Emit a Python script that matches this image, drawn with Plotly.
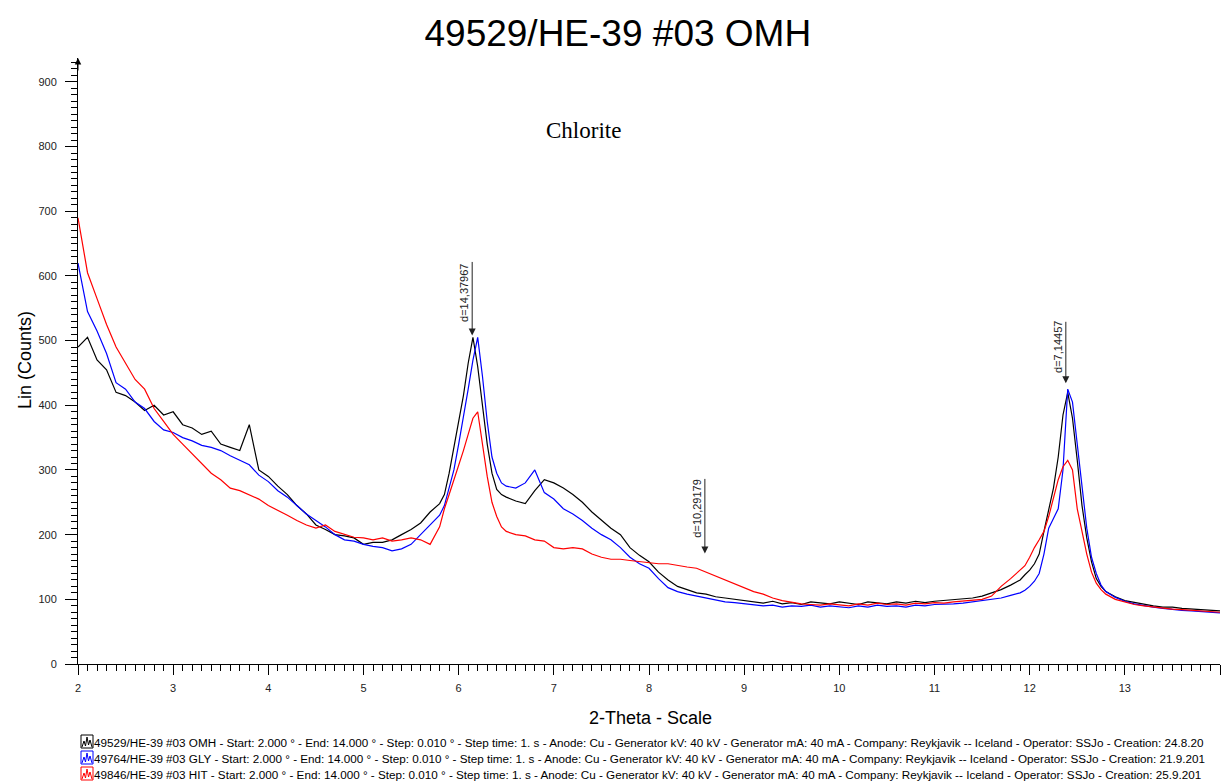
import plotly.graph_objects as go

FONT = "Arial, Liberation Sans, sans-serif"

two_theta = [2.0,2.1,2.2,2.3,2.4,2.5,2.6,2.7,2.8,2.9,
             3.0,3.1,3.2,3.3,3.4,3.5,3.6,3.7,3.8,3.9,
             4.0,4.1,4.2,4.3,4.4,4.5,4.6,4.7,4.8,4.9,
             5.0,5.1,5.2,5.3,5.4,5.5,5.6,5.7,5.8,5.85,
             5.9,5.95,6.0,6.05,6.1,6.15,6.2,6.25,6.3,6.35,
             6.4,6.45,6.5,6.6,6.7,6.8,6.9,7.0,7.1,7.2,
             7.3,7.4,7.5,7.6,7.7,7.8,7.9,8.0,8.1,8.2,
             8.3,8.4,8.5,8.6,8.7,8.8,8.9,9.0,9.1,9.2,
             9.3,9.4,9.5,9.6,9.7,9.8,9.9,10.0,10.1,10.2,
             10.3,10.4,10.5,10.6,10.7,10.8,10.9,11.0,11.1,11.2,
             11.3,11.4,11.5,11.6,11.7,11.8,11.9,11.95,12.0,12.05,
             12.1,12.15,12.2,12.25,12.3,12.35,12.4,12.45,12.5,12.55,
             12.6,12.65,12.7,12.75,12.8,12.9,13.0,13.1,13.2,13.3,
             13.4,13.5,13.6,13.7,13.8,13.9,14.0]

omh = [490,505,470,455,420,415,405,392,400,385,
       390,370,365,355,360,340,335,330,370,300,
       290,275,262,245,232,215,208,200,198,195,
       185,188,188,192,200,208,218,235,248,262,
       295,335,370,415,465,505,460,400,340,295,
       270,262,258,252,248,268,285,280,272,262,
       250,235,222,210,200,180,168,158,142,130,
       120,115,110,108,104,102,100,98,96,94,
       97,93,95,92,96,94,93,96,94,92,
       96,95,93,96,94,97,95,97,98,100,
       100,102,105,110,115,122,130,138,145,155,
       170,205,240,272,320,385,420,380,315,245,
       195,158,132,120,112,104,98,95,92,90,
       88,88,86,85,84,83,82]

gly = [620,545,515,480,435,425,405,395,375,362,
       358,350,345,338,335,330,322,315,308,292,
       282,268,258,245,232,222,212,200,192,190,
       185,182,180,175,178,185,200,215,230,245,
       272,300,340,380,425,470,505,445,375,320,
       295,280,275,272,280,300,265,255,240,232,
       222,210,200,192,180,165,155,148,132,118,
       112,108,105,102,100,96,95,93,92,90,
       91,88,90,89,91,88,90,89,87,90,
       88,91,89,90,88,91,90,92,92,93,
       94,96,98,100,102,106,110,114,120,128,
       140,170,210,225,240,300,425,405,340,265,
       210,165,140,122,112,103,97,93,90,88,
       86,84,83,82,81,80,79]

hit = [690,605,565,525,490,465,440,425,395,375,
       355,340,325,310,295,285,272,268,262,255,
       245,238,230,222,215,210,215,205,200,196,
       195,192,195,190,192,195,192,185,212,240,
       262,285,305,330,355,380,390,340,290,250,
       228,212,205,200,198,192,190,180,178,180,
       178,170,165,162,162,160,158,156,155,155,
       152,150,148,142,135,130,124,118,112,108,
       102,98,95,93,92,91,93,92,90,93,
       91,94,92,93,91,94,93,95,94,96,
       97,98,100,105,120,132,145,152,165,180,
       192,205,228,255,285,305,315,300,240,205,
       170,142,125,115,108,100,96,92,90,88,
       86,85,84,83,82,80,80]

series_names = [
    "49529/HE-39 #03 OMH - Start: 2.000 ° - End: 14.000 ° - Step: 0.010 ° - Step time: 1. s - Anode: Cu - Generator kV: 40 kV - Generator mA: 40 mA - Company: Reykjavik -- Iceland - Operator: SSJo - Creation: 24.8.20",
    "49764/HE-39 #03 GLY - Start: 2.000 ° - End: 14.000 ° - Step: 0.010 ° - Step time: 1. s - Anode: Cu - Generator kV: 40 kV - Generator mA: 40 mA - Company: Reykjavik -- Iceland - Operator: SSJo - Creation: 21.9.201",
    "49846/HE-39 #03 HIT - Start: 2.000 ° - End: 14.000 ° - Step: 0.010 ° - Step time: 1. s - Anode: Cu - Generator kV: 40 kV - Generator mA: 40 mA - Company: Reykjavik -- Iceland - Operator: SSJo - Creation: 25.9.201",
]
series_values = [omh, gly, hit]
series_colors = ["#000000", "#0000FF", "#FF0000"]

# peak markers: 2-theta position, intensity at arrow tip, label
peak_pos = [6.142, 8.587, 12.38]
peak_tip = [508, 171, 434]
peak_labels = ["d=14,37967", "d=10,29179", "d=7,14457"]
peak_len = [75, 76, 63]      # marker line length in px
peak_text_y = [574, 240, 490]

fig = go.Figure()
for name, vals, col in zip(series_names, series_values, series_colors):
    fig.add_trace(go.Scatter(x=two_theta, y=vals, mode="lines", name=name,
                             line=dict(color=col, width=1.2), showlegend=False))

W, H = 1221, 783
L, R, T, B = 78, 1, 58, 119
pw, ph = W - L - R, H - T - B

def px2paper_x(px):
    return (px - L) / pw

def px2paper_y(py):
    return (H - B - py) / ph

ann = []
# y axis arrow
ann.append(dict(x=0, y=1, xref="paper", yref="paper", ax=0, ay=14, text="",
                showarrow=True, arrowhead=2, arrowsize=1.3, arrowwidth=1,
                arrowcolor="black"))
for p, tip, lab, ln, ty in zip(peak_pos, peak_tip, peak_labels, peak_len, peak_text_y):
    ann.append(dict(x=p, y=tip, xref="x", yref="y", ax=0, ay=-ln, text="",
                    showarrow=True, arrowhead=2, arrowsize=1.4, arrowwidth=1,
                    arrowcolor="#222"))
    ann.append(dict(x=p, y=ty, xref="x", yref="y", text=lab, textangle=-90,
                    xanchor="center", yanchor="middle",
                    showarrow=False, xshift=-8, font=dict(family=FONT, size=11, color="#222")))

ann.append(dict(x=px2paper_x(583), y=px2paper_y(131), xref="paper", yref="paper",
                xanchor="center", yanchor="middle",
                text="Chlorite", showarrow=False,
                font=dict(family="Times New Roman, Liberation Serif, serif", size=23, color="black")))
ann.append(dict(x=px2paper_x(25), y=px2paper_y(360), xref="paper", yref="paper",
                xanchor="center", yanchor="middle",
                text="Lin (Counts)", textangle=-90, showarrow=False,
                font=dict(family=FONT, size=18, color="black")))
ann.append(dict(x=px2paper_x(650), y=px2paper_y(718), xref="paper", yref="paper",
                xanchor="center", yanchor="middle",
                text="2-Theta - Scale", showarrow=False,
                font=dict(family=FONT, size=18, color="black")))

shapes = []
rows_y = [742, 758, 774]
for name, col, ry in zip(series_names, series_colors, rows_y):
    ann.append(dict(x=px2paper_x(92), y=px2paper_y(ry), xref="paper", yref="paper",
                    text=name, showarrow=False, xanchor="left", yanchor="middle",
                    font=dict(family=FONT, size=11.7, color="black")))
    x0, x1 = px2paper_x(81), px2paper_x(93)
    y0, y1 = px2paper_y(ry + 6), px2paper_y(ry - 7)
    shapes.append(dict(type="rect", xref="paper", yref="paper", x0=x0, x1=x1, y0=y0, y1=y1,
                       line=dict(color=col, width=1)))
    zx = [82, 84, 85.5, 87, 88.5, 90, 92]
    zy = [ry + 5, ry - 1, ry + 4, ry - 5, ry + 3, ry - 2, ry + 5]
    path = "M " + " L ".join(f"{px2paper_x(a)},{px2paper_y(b)}" for a, b in zip(zx, zy))
    shapes.append(dict(type="path", xref="paper", yref="paper", path=path,
                       line=dict(color=col, width=1)))

fig.update_layout(
    width=W, height=H,
    margin=dict(l=L, r=R, t=T, b=B, autoexpand=False),
    paper_bgcolor="white", plot_bgcolor="white",
    title=dict(text="49529/HE-39 #03 OMH", x=0.506, xanchor="center", y=1 - 33 / H,
               yanchor="middle", font=dict(family=FONT, size=37, color="black")),
    xaxis=dict(range=[2, 14], dtick=1, tick0=2, showgrid=False, zeroline=False,
               showline=True, linecolor="black", linewidth=1,
               ticks="outside", ticklen=10, tickcolor="black", ticklabelstandoff=4,
               minor=dict(dtick=0.1, ticklen=6, ticks="outside", tickcolor="black", showgrid=False),
               tickfont=dict(family=FONT, size=11, color="#222")),
    yaxis=dict(range=[0, 937], dtick=100, tick0=0, showgrid=False, zeroline=False,
               showline=True, linecolor="black", linewidth=1,
               ticks="outside", ticklen=12, tickcolor="black", ticklabelstandoff=6,
               minor=dict(dtick=10, ticklen=6, ticks="outside", tickcolor="black", showgrid=False),
               tickfont=dict(family=FONT, size=11, color="#222")),
    annotations=ann,
    shapes=shapes,
)

fig.write_html("out.html", config={"displayModeBar": False},
               post_script="document.body.style.margin='0';document.body.style.overflow='hidden';")
